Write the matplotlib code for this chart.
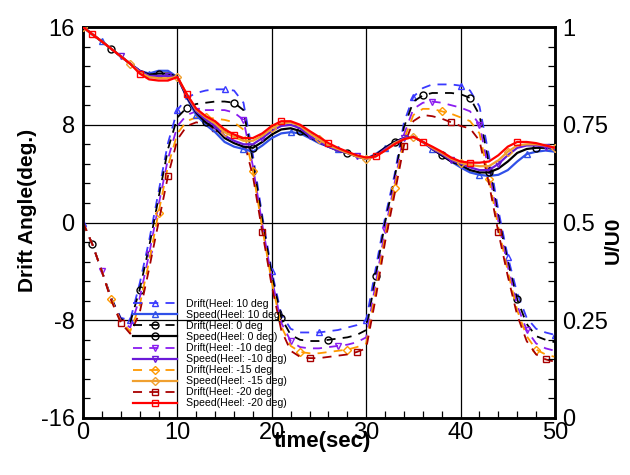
import matplotlib
matplotlib.use("Agg")
import matplotlib.pyplot as plt
from matplotlib.ticker import MultipleLocator

plt.rcParams['font.family'] = ['Liberation Sans', 'DejaVu Sans']

time = list(range(0, 51))

drift_p10 = [0, -1.8, -4.0, -6.2, -7.8, -8.0, -5.0, -1.5, 2.5, 6.5, 9.2, 10.2, 10.6, 10.8, 10.9, 10.9, 10.8, 9.8, 5.5, 0.5,
             -4.0, -7.5, -8.7, -9.0, -9.0, -9.0, -8.9, -8.8, -8.6, -8.4, -8.0, -3.8, 0.4, 3.9, 8.2, 10.3, 11.0, 11.3, 11.3, 11.3,
             11.2, 10.8, 9.5, 5.5, 1.0, -2.8, -5.8, -7.8, -8.7, -9.0, -9.2]
drift_0 = [0, -1.8, -4.0, -6.2, -7.9, -8.2, -5.5, -2.0, 2.0, 6.0, 8.6, 9.4, 9.7, 9.8, 9.9, 9.9, 9.8, 9.2, 5.0, 0.2,
           -4.3, -7.8, -9.2, -9.6, -9.7, -9.7, -9.6, -9.5, -9.4, -9.2, -8.8, -4.4, 0.0, 3.6, 7.8, 9.9, 10.4, 10.6, 10.6, 10.6,
           10.5, 10.2, 8.8, 4.8, 0.5, -3.2, -6.3, -8.3, -9.3, -9.6, -9.8]
drift_m10 = [0, -1.8, -4.0, -6.3, -8.0, -8.6, -6.2, -2.6, 1.4, 5.2, 7.9, 8.8, 9.1, 9.2, 9.2, 9.2, 9.0, 8.4, 4.6, -0.2,
             -4.6, -8.2, -9.7, -10.2, -10.3, -10.3, -10.2, -10.1, -10.0, -9.8, -9.4, -5.0, -0.6, 3.2, 7.2, 9.3, 9.8, 9.9, 9.8, 9.6,
             9.4, 9.1, 8.0, 4.2, 0.1, -3.6, -6.8, -8.8, -9.9, -10.3, -10.5]
drift_m15 = [0, -1.8, -4.0, -6.3, -8.1, -8.9, -6.8, -3.2, 0.8, 4.6, 7.3, 8.3, 8.6, 8.6, 8.5, 8.4, 8.2, 7.6, 4.2, -0.5,
             -4.9, -8.5, -10.1, -10.6, -10.7, -10.7, -10.6, -10.5, -10.4, -10.2, -9.9, -5.6, -1.1, 2.8, 6.8, 8.8, 9.3, 9.3, 9.1, 8.9,
             8.6, 8.3, 7.3, 3.6, -0.4, -4.0, -7.2, -9.3, -10.4, -10.8, -11.0]
drift_m20 = [0, -1.8, -4.0, -6.4, -8.2, -9.1, -7.4, -3.8, 0.0, 3.8, 6.8, 7.9, 8.2, 8.0, 7.7, 7.4, 7.2, 6.8, 3.8, -0.8,
             -5.2, -8.8, -10.5, -11.0, -11.1, -11.1, -11.0, -10.9, -10.8, -10.6, -10.3, -6.2, -1.6, 2.3, 6.3, 8.3, 8.8, 8.7, 8.5, 8.2,
             7.9, 7.7, 6.7, 3.2, -0.8, -4.4, -7.6, -9.7, -10.8, -11.2, -11.4]

speed_p10 = [1.000, 0.981, 0.963, 0.944, 0.925, 0.906, 0.888, 0.881, 0.888, 0.888, 0.872, 0.819, 0.775, 0.750, 0.731, 0.706,
             0.694, 0.688, 0.681, 0.697, 0.716, 0.728, 0.731, 0.728, 0.716, 0.703, 0.694, 0.688, 0.678, 0.669, 0.663, 0.675,
             0.691, 0.706, 0.716, 0.719, 0.706, 0.688, 0.672, 0.656, 0.641, 0.628, 0.622, 0.619, 0.622, 0.634, 0.656, 0.675,
             0.681, 0.684, 0.681]
speed_0 = [1.000, 0.981, 0.963, 0.944, 0.925, 0.906, 0.888, 0.878, 0.881, 0.881, 0.872, 0.822, 0.781, 0.756, 0.741, 0.716,
           0.703, 0.694, 0.691, 0.706, 0.725, 0.738, 0.741, 0.734, 0.719, 0.706, 0.694, 0.684, 0.678, 0.669, 0.663, 0.672,
           0.691, 0.706, 0.716, 0.719, 0.706, 0.688, 0.672, 0.656, 0.647, 0.634, 0.628, 0.628, 0.638, 0.656, 0.678, 0.688,
           0.691, 0.691, 0.688]
speed_m10 = [1.000, 0.981, 0.963, 0.944, 0.925, 0.906, 0.888, 0.875, 0.875, 0.875, 0.872, 0.825, 0.784, 0.763, 0.747, 0.722,
             0.709, 0.700, 0.700, 0.716, 0.734, 0.747, 0.750, 0.741, 0.722, 0.706, 0.694, 0.684, 0.678, 0.669, 0.663, 0.669,
             0.688, 0.703, 0.716, 0.719, 0.706, 0.688, 0.675, 0.659, 0.650, 0.641, 0.634, 0.634, 0.650, 0.672, 0.691, 0.697,
             0.697, 0.694, 0.688]
speed_m15 = [1.000, 0.981, 0.963, 0.944, 0.925, 0.906, 0.884, 0.872, 0.869, 0.869, 0.872, 0.828, 0.788, 0.769, 0.753, 0.731,
             0.719, 0.709, 0.709, 0.722, 0.741, 0.753, 0.756, 0.747, 0.728, 0.713, 0.697, 0.688, 0.678, 0.669, 0.663, 0.669,
             0.684, 0.703, 0.713, 0.719, 0.706, 0.691, 0.678, 0.663, 0.653, 0.647, 0.644, 0.644, 0.659, 0.681, 0.697, 0.700,
             0.700, 0.697, 0.691]
speed_m20 = [1.000, 0.981, 0.963, 0.944, 0.925, 0.906, 0.881, 0.866, 0.863, 0.863, 0.872, 0.828, 0.791, 0.772, 0.759, 0.738,
             0.725, 0.716, 0.716, 0.728, 0.747, 0.759, 0.759, 0.750, 0.734, 0.719, 0.703, 0.691, 0.681, 0.672, 0.666, 0.669,
             0.684, 0.700, 0.713, 0.719, 0.706, 0.694, 0.681, 0.666, 0.656, 0.653, 0.653, 0.656, 0.672, 0.694, 0.706, 0.706,
             0.703, 0.697, 0.691]

heel_labels = ["10", "0", "-10", "-15", "-20"]
drift_series = [drift_p10, drift_0, drift_m10, drift_m15, drift_m20]
speed_series = [speed_p10, speed_0, speed_m10, speed_m15, speed_m20]
drift_colors = ['#3a3aff', '#000000', '#8a1cf0', '#ff9900', '#a80000']
speed_colors = ['#3050e8', '#000000', '#6a1ad8', '#f0a030', '#ff0000']
markers = ['^', 'o', 'v', 'D', 's']
msizes = [5, 5, 5, 4, 4]

fig = plt.figure(figsize=(6.3, 4.75), dpi=100)
ax = fig.add_axes([83/630, 1-418/475, (555-83)/630, (418-27)/475])
ax2 = ax.twinx()

handles = []
for i in range(5):
    hd, = ax.plot(time, drift_series[i], color=drift_colors[i], lw=1.3, ls=(0, (5, 4)),
                  marker=markers[i], ms=msizes[i], mfc='none', mec=drift_colors[i], mew=1.0,
                  markevery=(i, 5), label=f"Drift(Heel: {heel_labels[i]} deg", zorder=3)
    handles.append(hd)
    hs, = ax2.plot(time, speed_series[i], color=speed_colors[i], lw=1.6, ls='-',
                   marker=markers[i], ms=msizes[i], mfc='none', mec=speed_colors[i], mew=1.0,
                   markevery=((i + 2) % 5, 5), label=f"Speed(Heel: {heel_labels[i]} deg)", zorder=3)
    handles.append(hs)

ax.set_xlim(0, 50)
ax.set_ylim(-16, 16)
ax2.set_ylim(0, 1)

ax.xaxis.set_major_locator(MultipleLocator(10))
ax.xaxis.set_minor_locator(MultipleLocator(2))
ax.yaxis.set_major_locator(MultipleLocator(8))
ax.yaxis.set_minor_locator(MultipleLocator(1.6))
ax2.yaxis.set_major_locator(MultipleLocator(0.25))
ax2.yaxis.set_minor_locator(MultipleLocator(0.05))

ax.grid(True, which='major', color='black', lw=0.9)
ax.set_axisbelow(True)

ax.tick_params(axis='both', which='major', direction='in', length=0, labelsize=17, pad=3)
ax.tick_params(axis='x', which='minor', direction='in', length=5, width=0.9, top=False)
ax.tick_params(axis='y', which='minor', direction='in', length=5, width=0.9)
ax.tick_params(axis='y', which='major', pad=6)
ax2.tick_params(axis='y', which='major', direction='in', length=0, labelsize=17, pad=5)
ax2.tick_params(axis='y', which='minor', direction='in', length=5, width=0.9)

ax.set_yticks([-16, -8, 0, 8, 16])
ax.set_yticklabels(['-16', '-8', '0', '8', '16'])
ax2.set_yticks([0, 0.25, 0.5, 0.75, 1])
ax2.set_yticklabels(['0', '0.25', '0.5', '0.75', '1'])

for a in (ax, ax2):
    for s in a.spines.values():
        s.set_linewidth(1.8)

fig.text(28/630, 1-210/475, "Drift Angle(deg.)", rotation=90, ha='center', va='center',
         fontsize=15, fontweight='bold')
fig.text(613/630, 1-240/475, "U/U0", rotation=90, ha='center', va='center',
         fontsize=15, fontweight='bold')
fig.text(322/630, 1-442/475, "time(sec)", ha='center', va='center',
         fontsize=16, fontweight='bold')

leg = ax2.legend(handles=handles, loc='upper left', bbox_to_anchor=(133/630, 1-299/475),
                 bbox_transform=fig.transFigure, frameon=False, fontsize=7.6,
                 handlelength=4.2, handletextpad=0.8, labelspacing=0.1, borderpad=0.0,
                 borderaxespad=0.0, numpoints=1)

fig.savefig("out.png", dpi=100)
